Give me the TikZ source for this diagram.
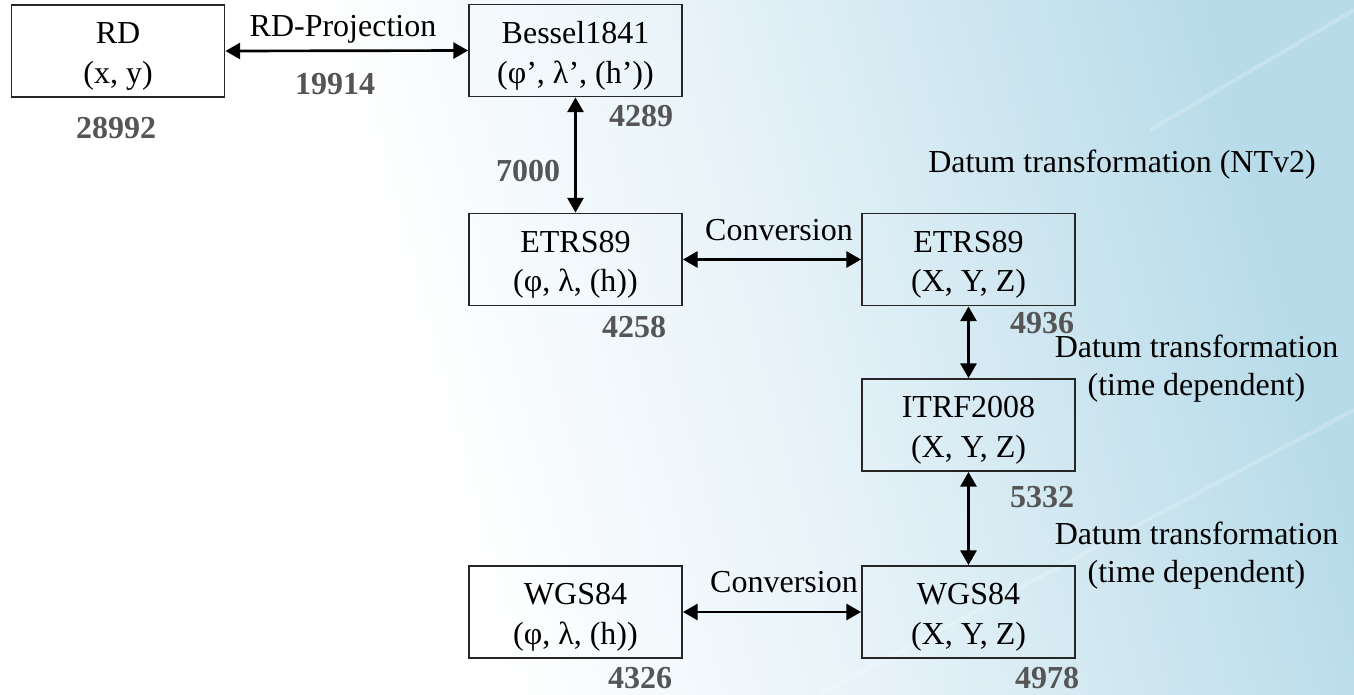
\documentclass[tikz,border=0pt]{standalone}
\usepackage{fontspec}
\setmainfont{Liberation Serif}
\usetikzlibrary{arrows.meta}
\definecolor{bgmid}{HTML}{E6F2F8}
\definecolor{bgright}{HTML}{B7DBE9}
\definecolor{numgray}{HTML}{555555}
\pgfdeclarehorizontalshading{bgshade}{100bp}{color(0bp)=(white); color(39bp)=(white); color(55bp)=(bgmid); color(75bp)=(bgright); color(100bp)=(bgright)}
\begin{document}
\begin{tikzpicture}[x=0.75pt,y=-0.75pt,
  box/.style={draw=black!85, line width=1.4pt, minimum width=159.75pt, minimum height=69pt, inner sep=0pt},
  boxtext/.style={align=center, font=\fontsize{24}{29.5}\selectfont, inner sep=0pt},
  lbl/.style={font=\fontsize{24}{28.5}\selectfont, inner sep=0pt, anchor=base},
  lbltwo/.style={font=\fontsize{24}{28.5}\selectfont, inner sep=0pt, align=center},
  num/.style={font=\fontsize{24}{28}\selectfont\bfseries, text=numgray, inner sep=0pt, anchor=base},
  conn/.style={line width=2pt, {Triangle[length=11pt,width=12pt]}-{Triangle[length=11pt,width=12pt]}}]
\useasboundingbox (0,0) rectangle (1354,694);
\shade[shading=bgshade, shading angle=15] (0,0) rectangle (1354,694);
\draw[white, opacity=0.2, line width=3pt] (820,694) -- (1354,410);
\draw[white, opacity=0.2, line width=3pt] (1150,130) -- (1354,10);

% boxes
\node[box] (rd) at (118,51) {};
\node[boxtext] (rdt) at ([yshift=-4pt]rd.center) {RD\\(x, y)};
\node[box] (bes) at (575.5,50.5) {};
\node[boxtext] (best) at ([yshift=-4pt]bes.center) {Bessel1841\\(φ’, λ’, (h’))};
\node[box] (etg) at (575.5,259.5) {};
\node[boxtext] (etgt) at ([yshift=-4pt]etg.center) {ETRS89\\(φ, λ, (h))};
\node[box] (etx) at (968.5,259.5) {};
\node[boxtext] (etxt) at ([yshift=-4pt]etx.center) {ETRS89\\(X, Y, Z)};
\node[box] (itrf) at (968.5,425) {};
\node[boxtext] (itrft) at ([yshift=-4pt]itrf.center) {ITRF2008\\(X, Y, Z)};
\node[box] (wgx) at (968.5,612) {};
\node[boxtext] (wgxt) at ([yshift=-4pt]wgx.center) {WGS84\\(X, Y, Z)};
\node[box] (wgg) at (575.5,612) {};
\node[boxtext] (wggt) at ([yshift=-4pt]wgg.center) {WGS84\\(φ, λ, (h))};

% connectors
\draw[conn] (rd.east) -- (bes.west);
\draw[conn] (bes.south) -- (etg.north);
\draw[conn] (etg.east) -- (etx.west);
\draw[conn] (etx.south) -- (itrf.north);
\draw[conn] (itrf.south) -- (wgx.north);
\draw[conn] (wgg.east) -- (wgx.west);

% labels
\node[lbl] (lproj) at (343,36) {RD-Projection};
\node[num] (n19914) at (335,94) {19914};
\node[num] (n28992) at (116,138) {28992};
\node[num] (n4289) at (641,126) {4289};
\node[num] (n7000) at (528,181) {7000};
\node[num] (n4258) at (634,337) {4258};
\node[lbl] (lconvone) at (779,240) {Conversion};
\node[lbl] (lntv) at (1122,172) {Datum transformation (NTv2)};
\node[num] (n4936) at (1042,333) {4936};
\node[lbltwo] (ltdone) at (1196.5,368.5) {Datum transformation\\(time dependent)};
\node[num] (n5332) at (1042,507) {5332};
\node[lbltwo] (ltdtwo) at (1196.5,556) {Datum transformation\\(time dependent)};
\node[lbl] (lconvtwo) at (784,592) {Conversion};
\node[num] (n4326) at (640,688) {4326};
\node[num] (n4978) at (1047,688) {4978};
\end{tikzpicture}
\end{document}
